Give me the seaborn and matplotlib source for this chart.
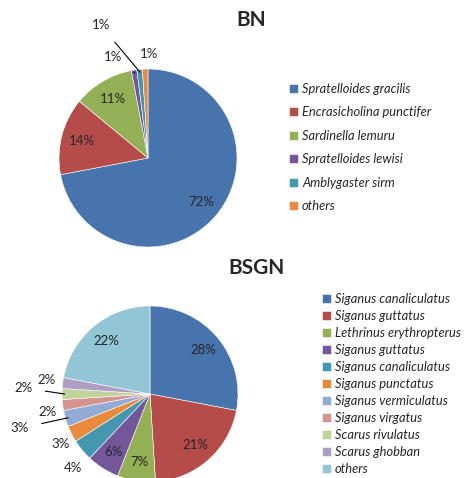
import numpy as np
import matplotlib
matplotlib.use("Agg")
import matplotlib.pyplot as plt
import seaborn as sns

# BN catch composition
bn_species = ["Spratelloides gracilis", "Encrasicholina punctifer", "Sardinella lemuru",
              "Spratelloides lewisi", "Amblygaster sirm", "others"]
bn_pct = [72, 14, 11, 1, 1, 1]

# BSGN catch composition
bsgn_species = ["Siganus canaliculatus", "Siganus guttatus", "Lethrinus erythropterus",
                "Siganus guttatus", "Siganus canaliculatus", "Siganus punctatus",
                "Siganus vermiculatus", "Siganus virgatus", "Scarus rivulatus",
                "Scarus ghobban", "others"]
bsgn_pct = [28, 21, 7, 6, 4, 3, 3, 2, 2, 2, 22]

colors = ["#4874AD", "#B54C49", "#93B055", "#73579A", "#4398B0", "#E98A3D",
          "#93ACD6", "#D59391", "#BFD39A", "#AE9EC4", "#92C6D6"]

sns.set_theme(style="white")
plt.rcParams["font.family"] = ["Lato", "DejaVu Sans"]
txt = "#262626"

fig = plt.figure(figsize=(4.76, 4.78), dpi=100)
fig.patch.set_facecolor("white")

# label placement for small slices: (x, y, leader line) in pie-radius units
bn_out = {3: (-0.39, 1.13, True), 4: (-0.53, 1.49, True), 5: (0.01, 1.17, False)}
bsgn_out = {4: (-0.875, -0.84, False), 5: (-1.02, -0.57, False), 6: (-1.48, -0.39, True),
            7: (-1.16, -0.20, False), 8: (-1.44, 0.07, True), 9: (-1.17, 0.16, False)}


def draw_pie(rect, values, cols, outside, inner_r):
    ax = fig.add_axes(rect)
    wedges, _ = ax.pie(values, colors=cols, startangle=90, counterclock=False,
                       wedgeprops=dict(edgecolor="white", linewidth=0.4))
    ax.set_xlim(-1, 1)
    ax.set_ylim(-1, 1)
    ax.set_aspect("equal")
    ax.axis("off")
    for i, (w, v) in enumerate(zip(wedges, values)):
        mid = np.deg2rad((w.theta1 + w.theta2) / 2)
        if i in outside:
            lx, ly, leader = outside[i]
            if leader:
                ex, ey = 0.97 * np.cos(mid), 0.97 * np.sin(mid)
                ax.annotate(f"{v}%", xy=(ex, ey), xytext=(lx, ly), fontsize=9.5,
                            color=txt, ha="center", va="center", annotation_clip=False,
                            arrowprops=dict(arrowstyle="-", color="black", lw=0.8,
                                            shrinkA=7, shrinkB=0))
            else:
                ax.text(lx, ly, f"{v}%", fontsize=9.5, color=txt, ha="center", va="center")
        else:
            ax.text(inner_r * np.cos(mid), inner_r * np.sin(mid), f"{v}%",
                    fontsize=9.5, color=txt, ha="center", va="center")
    return ax, wedges


W, H = 476, 478
ax1, w1 = draw_pie([(148 - 89) / W, (H - 158 - 89) / H, 178 / W, 178 / H],
                   bn_pct, colors[:6], bn_out, 0.77)
ax2, w2 = draw_pie([(150 - 88) / W, (H - 394 - 88) / H, 176 / W, 176 / H],
                   bsgn_pct, colors, bsgn_out, 0.78)

fig.text(251 / W, 1 - 20 / H, "BN", fontsize=15, fontweight="bold", ha="center", va="center")
fig.text(256 / W, 1 - 268 / H, "BSGN", fontsize=15, fontweight="bold", ha="center", va="center")

leg1 = fig.legend(w1, bn_species, loc="upper left", bbox_to_anchor=(284 / W, 1 - 77.5 / H),
                  frameon=False, fontsize=9.3, labelspacing=0.89, handlelength=0.7,
                  handleheight=0.7, handletextpad=0.3, borderaxespad=0)
for t in leg1.get_texts():
    t.set_style("italic")
    t.set_color(txt)

leg2 = fig.legend(w2, bsgn_species, loc="upper left", bbox_to_anchor=(317 / W, 1 - 287.5 / H),
                  frameon=False, fontsize=9.3, labelspacing=0.39, handlelength=0.7,
                  handleheight=0.7, handletextpad=0.3, borderaxespad=0)
for t in leg2.get_texts():
    t.set_style("italic")
    t.set_color(txt)

fig.savefig("out.png", dpi=100)
